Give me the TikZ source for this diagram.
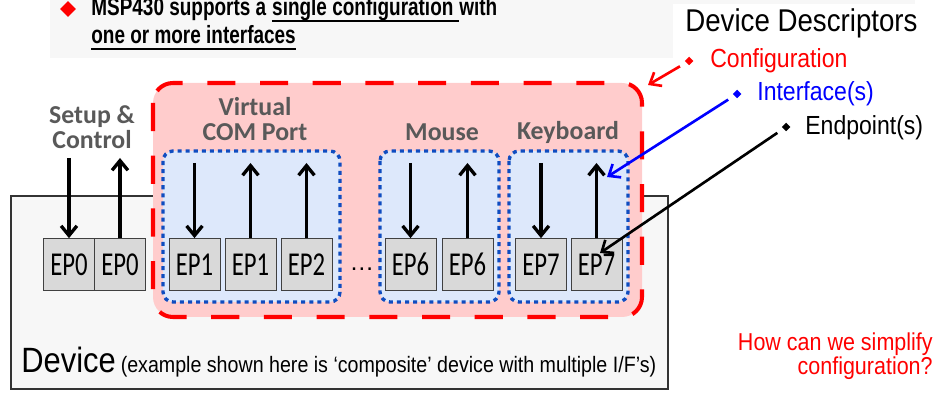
\documentclass[tikz,border=0pt]{standalone}
\usepackage{fontspec}
\setmainfont{Liberation Sans}
\newfontfamily\narrowsans[FakeStretch=0.88]{Liberation Sans}
\newfontfamily\bannerfont[FakeStretch=0.76]{Liberation Sans}
\newfontfamily\calibri{Carlito}
\newfontfamily\epfont[FakeStretch=0.74]{Carlito}
\usetikzlibrary{arrows.meta,shapes.geometric,positioning}

\definecolor{bannergray}{HTML}{F7F7F7}
\definecolor{devfill}{HTML}{F7F7F7}
\definecolor{cfgpink}{HTML}{FFCCCC}
\definecolor{iffill}{HTML}{DDE8FB}
\definecolor{ifblue}{HTML}{0F4CC0}
\definecolor{epgray}{HTML}{D9D9D9}
\definecolor{labelgray}{HTML}{595959}

\begin{document}
\begin{tikzpicture}[x=0.02cm, y=-0.02cm, >={Straight Barb[length=5.5pt,width=9pt]},
  epbox/.style={draw=black!75, fill=epgray, minimum width=1.02cm, minimum height=1.04cm,
    inner sep=0pt, font=\epfont\fontsize{19}{21}\selectfont},
  flow/.style={->, line width=1.9pt},
  devbox/.style={draw=black!80, line width=0.8pt, fill=devfill},
  cfgbox/.style={draw=red, fill=cfgpink, line width=2.3pt, dash pattern=on 16pt off 14pt,
    rounded corners=0.4cm},
  ifbox/.style={draw=ifblue, fill=iffill, line width=1.9pt, dash pattern=on 2.3pt off 2.3pt,
    rounded corners=0.2cm},
  grouplabel/.style={font=\calibri\bfseries\fontsize{14.7}{14.7}\selectfont, text=labelgray,
    align=center, anchor=base, inner sep=0pt},
  bannertext/.style={font=\bannerfont\bfseries\fontsize{14.2}{15}\selectfont, anchor=base west,
    inner sep=0pt},
  underbar/.style={line width=1.2pt},
  notetext/.style={font=\narrowsans\fontsize{14.9}{17}\selectfont, anchor=base west, inner sep=0pt},
  notedot/.style={diamond, fill, inner sep=0pt, minimum size=5pt},
  notearrow/.style={->, line width=1.5pt, shorten <=4pt}]

  \useasboundingbox (0,0) rectangle (935,394);

  % Banner
  \fill[bannergray] (50,0) rectangle (673,58);
  \fill[bannergray] (673,0) rectangle (915,4);
  \node[diamond, fill=red, inner sep=0pt, minimum size=9pt] (mark) at (68,9) {};
  \node[bannertext] (msg1) at (91,16) {MSP430 supports a\ \mbox{}};
  \node[bannertext] (msg1u) at (msg1.base east) {single configuration\ \mbox{}};
  \node[bannertext] (msg1w) at (msg1u.base east) {with};
  \node[bannertext] (msg2) at (91,44) {one or more interfaces};
  \draw[underbar] ([yshift=-3pt]msg1u.base west) -- ([yshift=-3pt]msg1u.base east);
  \draw[underbar] ([yshift=-3pt]msg2.base west) -- ([yshift=-3pt]msg2.base east);

  % Device and configuration
  \draw[devbox] (11,196) rectangle (668,389);
  \draw[cfgbox] (153,83) rectangle (642,317);

  % Interfaces
  \draw[ifbox] (163,151) rectangle (340,302);
  \draw[ifbox] (380,151) rectangle (499,302);
  \draw[ifbox] (509,151) rectangle (628,302);

  % Endpoints
  \foreach \nm/\x/\lbl in {e0o/69/EP0, e0i/120/EP0, e1o/194.5/EP1, e1i/250.5/EP1, e2i/306.5/EP2,
      e6o/410.5/EP6, e6i/467.5/EP6, e7o/541/EP7, e7i/596.5/EP7}
    \node[epbox] (\nm) at (\x,264.5) {\lbl};
  \node[font=\fontsize{14}{16}\selectfont, inner sep=0pt] (gap) at (362,269) {\dots};

  % Transfers
  \coordinate (ctltop) at (0,158);
  \coordinate (iftop) at (0,163);
  \draw[flow] (e0o.north |- ctltop) -- (e0o.north);
  \draw[flow] (e0i.north) -- (e0i.north |- ctltop);
  \foreach \nm in {e1o,e6o,e7o}
    \draw[flow] (\nm.north |- iftop) -- (\nm.north);
  \foreach \nm in {e1i,e2i,e6i,e7i}
    \draw[flow] (\nm.north) -- (\nm.north |- iftop);

  % Group labels
  \node[grouplabel] (ctl) at (92,149) {Setup \&\\Control};
  \node[grouplabel] (vcp) at (255,141) {Virtual\\COM Port};
  \node[grouplabel] (mouse) at (442,141) {Mouse};
  \node[grouplabel] (kbd) at (568,140) {Keyboard};

  % Descriptors
  \node[font=\narrowsans\fontsize{17.9}{20}\selectfont, anchor=base west, inner sep=0pt] (desc)
    at (685,32) {Device Descriptors};
  \node[notedot, red] (cfgdot) at (689,61) {};
  \node[notetext, text=red] (cfgtxt) at (710,68) {Configuration};
  \node[notedot, blue] (ifdot) at (737,94) {};
  \node[notetext, text=blue] (iftxt) at (757,101) {Interface(s)};
  \node[notedot] (epdot) at (786,127) {};
  \node[notetext] (eptxt) at (805,135) {Endpoint(s)};
  \coordinate (cfgtip) at (648,85);
  \coordinate (iftip) at (607,177);
  \coordinate (eptip) at (600,253);
  \draw[notearrow, red] (cfgdot) -- (cfgtip);
  \draw[notearrow, blue] (ifdot) -- (iftip);
  \draw[notearrow] (epdot) -- (eptip);

  % Captions
  \node[anchor=base west, inner sep=0pt] (devtxt) at (21,372)
    {{\narrowsans\fontsize{20}{24}\selectfont Device} {\narrowsans\fontsize{12.7}{15}\selectfont
    (example shown here is ‘composite’ device with multiple I/F’s)}};
  \node[font=\narrowsans\fontsize{13.9}{13.6}\selectfont, text=red, align=right, anchor=base east,
    inner sep=0pt] (ask) at (933,374) {How can we simplify\\configuration?};
\end{tikzpicture}
\end{document}
